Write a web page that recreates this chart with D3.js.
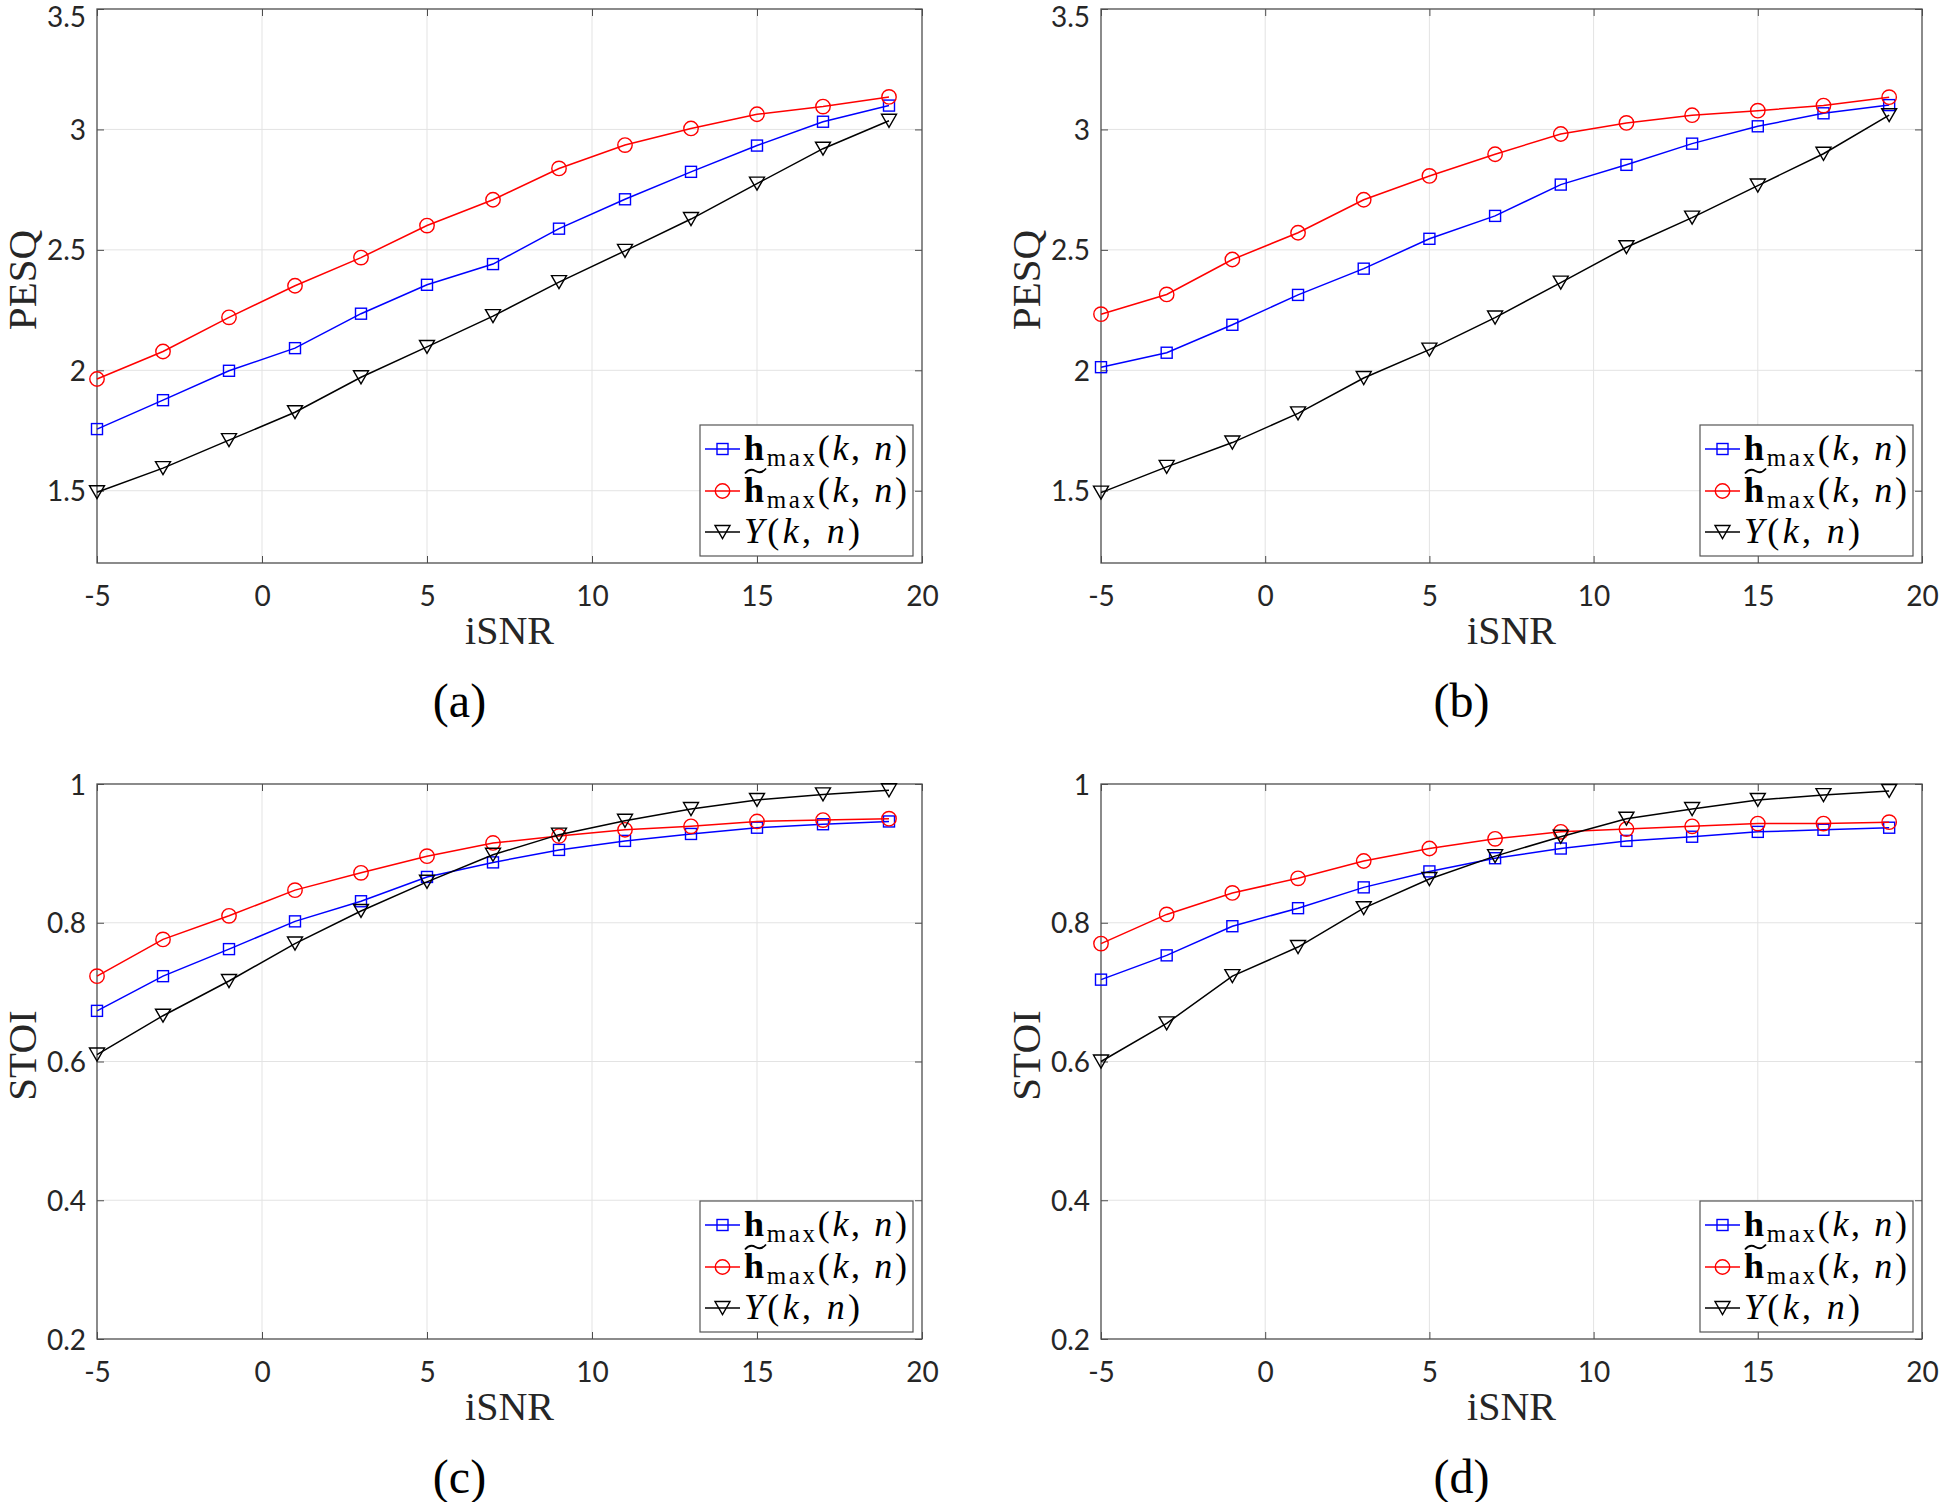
<!DOCTYPE html>
<html>
<head>
<meta charset="utf-8">
<script src="https://cdn.jsdelivr.net/npm/d3@7"></script>
<style>
  html, body { margin: 0; padding: 0; background: #fff; }
  svg { display: block; }
</style>
</head>
<body>
<svg id="chart" width="1943" height="1502"></svg>
<script>
// ---------- data ----------
const snr = [-5, -3, -1, 1, 3, 5, 7, 9, 11, 13, 15, 17, 19];
const xTicks = [-5, 0, 5, 10, 15, 20];
const pesqTicks = [1.5, 2, 2.5, 3, 3.5];
const stoiTicks = [0.2, 0.4, 0.6, 0.8, 1];
const pesqDomain = [1.2, 3.5];
const stoiDomain = [0.2, 1];
const captions = ["(a)", "(b)", "(c)", "(d)"];
const yLabels = ["PESQ", "PESQ", "STOI", "STOI"];
const xLabel = "iSNR";

const pesqA_hmax   = [1.756, 1.876, 1.998, 2.092, 2.235, 2.355, 2.441, 2.588, 2.710, 2.824, 2.933, 3.032, 3.099];
const pesqA_htilde = [1.964, 2.078, 2.220, 2.351, 2.468, 2.601, 2.708, 2.838, 2.935, 3.004, 3.063, 3.095, 3.135];
const pesqA_Y      = [1.494, 1.594, 1.710, 1.826, 1.971, 2.097, 2.225, 2.366, 2.496, 2.628, 2.775, 2.920, 3.036];

const pesqB_hmax   = [2.013, 2.073, 2.189, 2.313, 2.422, 2.546, 2.641, 2.771, 2.853, 2.941, 3.013, 3.067, 3.101];
const pesqB_htilde = [2.233, 2.315, 2.460, 2.571, 2.708, 2.807, 2.897, 2.981, 3.027, 3.059, 3.078, 3.099, 3.134];
const pesqB_Y      = [1.492, 1.599, 1.700, 1.821, 1.968, 2.086, 2.219, 2.364, 2.511, 2.634, 2.767, 2.899, 3.059];

const stoiC_hmax   = [0.673, 0.723, 0.762, 0.802, 0.831, 0.866, 0.887, 0.905, 0.918, 0.928, 0.937, 0.942, 0.946];
const stoiC_htilde = [0.723, 0.776, 0.810, 0.847, 0.872, 0.896, 0.915, 0.925, 0.934, 0.939, 0.946, 0.948, 0.950];
const stoiC_Y      = [0.610, 0.666, 0.716, 0.770, 0.817, 0.859, 0.898, 0.927, 0.947, 0.964, 0.977, 0.985, 0.991];

const stoiD_hmax   = [0.718, 0.753, 0.795, 0.821, 0.851, 0.874, 0.893, 0.907, 0.918, 0.924, 0.931, 0.934, 0.937];
const stoiD_htilde = [0.770, 0.812, 0.843, 0.864, 0.889, 0.907, 0.921, 0.931, 0.935, 0.939, 0.943, 0.943, 0.945];
const stoiD_Y      = [0.600, 0.655, 0.723, 0.765, 0.821, 0.863, 0.896, 0.924, 0.950, 0.964, 0.977, 0.984, 0.990];

const seriesColors = ["#0000ff", "#ff0000", "#000000"];
const seriesMarkers = ["square", "circle", "triangle"];

// ---------- layout ----------
const panels = [
  { x0: 97,   x1: 922,  y0: 9,   y1: 563,  dom: pesqDomain, ticks: pesqTicks, series: [pesqA_hmax, pesqA_htilde, pesqA_Y] },
  { x0: 1101, x1: 1922, y0: 9,   y1: 563,  dom: pesqDomain, ticks: pesqTicks, series: [pesqB_hmax, pesqB_htilde, pesqB_Y] },
  { x0: 97,   x1: 922,  y0: 784, y1: 1339, dom: stoiDomain, ticks: stoiTicks, series: [stoiC_hmax, stoiC_htilde, stoiC_Y] },
  { x0: 1101, x1: 1922, y0: 784, y1: 1339, dom: stoiDomain, ticks: stoiTicks, series: [stoiD_hmax, stoiD_htilde, stoiD_Y] }
];

const svg = d3.select("#chart");
const tickFont = "Lato, 'Open Sans', sans-serif";
const serif = "'Liberation Serif', 'DejaVu Serif', serif";
const axisColor = "#4d4d4d";

function drawMarker(g, type, x, y, color) {
  if (type === "square") {
    g.append("rect").attr("x", x - 5.5).attr("y", y - 5.5).attr("width", 11).attr("height", 11)
      .attr("fill", "none").attr("stroke", color).attr("stroke-width", 1.4);
  } else if (type === "circle") {
    g.append("circle").attr("cx", x).attr("cy", y).attr("r", 7.2)
      .attr("fill", "none").attr("stroke", color).attr("stroke-width", 1.4);
  } else {
    const w = 7.5, h = 6.5;
    g.append("path").attr("d", `M${x - w},${y - h}L${x + w},${y - h}L${x},${y + h}Z`)
      .attr("fill", "none").attr("stroke", color).attr("stroke-width", 1.4);
  }
}

panels.forEach((p, i) => {
  const x = d3.scaleLinear().domain([xTicks[0], xTicks[xTicks.length - 1]]).range([p.x0, p.x1]);
  const y = d3.scaleLinear().domain(p.dom).range([p.y1, p.y0]);
  const g = svg.append("g");

  // grid
  g.append("g").selectAll("line").data(xTicks.slice(1, -1)).join("line")
    .attr("x1", d => x(d)).attr("x2", d => x(d)).attr("y1", p.y0).attr("y2", p.y1)
    .attr("stroke", "#e3e3e3").attr("stroke-width", 1);
  g.append("g").selectAll("line").data(p.ticks.filter(t => t > p.dom[0] && t < p.dom[1])).join("line")
    .attr("x1", p.x0).attr("x2", p.x1).attr("y1", d => y(d)).attr("y2", d => y(d))
    .attr("stroke", "#e3e3e3").attr("stroke-width", 1);

  // axes via d3 axis (ticks inside)
  const xAxis = d3.axisBottom(x).tickValues(xTicks).tickSizeInner(-7).tickSizeOuter(0).tickPadding(23)
    .tickFormat(d => String(d));
  const gx = g.append("g").attr("transform", `translate(0,${p.y1})`).call(xAxis);
  gx.select(".domain").remove();
  gx.selectAll("line").attr("stroke", axisColor);
  gx.selectAll("text").attr("font-family", tickFont).attr("font-size", 28).attr("fill", "#262626");

  const gxt = g.append("g").attr("transform", `translate(0,${p.y0})`)
    .call(d3.axisTop(x).tickValues(xTicks).tickSizeInner(-7).tickSizeOuter(0).tickFormat(""));
  gxt.select(".domain").remove();
  gxt.selectAll("line").attr("stroke", axisColor);

  const yAxis = d3.axisLeft(y).tickValues(p.ticks).tickSizeInner(-7).tickSizeOuter(0).tickPadding(11)
    .tickFormat(d => String(d));
  const gy = g.append("g").attr("transform", `translate(${p.x0},0)`).call(yAxis);
  gy.select(".domain").remove();
  gy.selectAll("line").attr("stroke", axisColor);
  gy.selectAll("text").attr("font-family", tickFont).attr("font-size", 28).attr("fill", "#262626")
    .attr("dy", d => (y(d) < 14 ? "0.62em" : "0.36em"));

  const gyr = g.append("g").attr("transform", `translate(${p.x1},0)`)
    .call(d3.axisRight(y).tickValues(p.ticks).tickSizeInner(-7).tickSizeOuter(0).tickFormat(""));
  gyr.select(".domain").remove();
  gyr.selectAll("line").attr("stroke", axisColor);

  // box
  g.append("rect").attr("x", p.x0).attr("y", p.y0).attr("width", p.x1 - p.x0).attr("height", p.y1 - p.y0)
    .attr("fill", "none").attr("stroke", axisColor).attr("stroke-width", 1.3);

  // series
  const line = d3.line().x((d, k) => x(snr[k])).y(d => y(d));
  p.series.forEach((vals, s) => {
    g.append("path").datum(vals).attr("d", line).attr("fill", "none")
      .attr("stroke", seriesColors[s]).attr("stroke-width", 1.5);
    vals.forEach((v, k) => drawMarker(g, seriesMarkers[s], x(snr[k]), y(v), seriesColors[s]));
  });

  // axis labels
  g.append("text").attr("x", (p.x0 + p.x1) / 2).attr("y", p.y1 + 81).attr("text-anchor", "middle")
    .attr("font-family", serif).attr("font-size", 40).attr("fill", "#262626").text(xLabel);
  g.append("text").attr("transform", `translate(${p.x0 - 61},${(p.y0 + p.y1) / 2 - 6}) rotate(-90)`)
    .attr("text-anchor", "middle").attr("font-family", serif).attr("font-size", 41).attr("fill", "#262626")
    .text(yLabels[i]);

  // caption
  g.append("text").attr("x", (p.x0 + p.x1) / 2 - 50).attr("y", p.y1 + 154).attr("text-anchor", "middle")
    .attr("font-family", serif).attr("font-size", 48).attr("fill", "#000").text(captions[i]);

  // legend
  const lw = 213, lh = 131;
  const lx = p.x1 - 9 - lw, ly = p.y1 - 7 - lh;
  const lg = g.append("g").attr("transform", `translate(${lx},${ly})`);
  lg.append("rect").attr("width", lw).attr("height", lh).attr("fill", "#fff")
    .attr("stroke", "#555").attr("stroke-width", 1.2);
  const rowY = [24, 66, 107];
  rowY.forEach((ry, s) => {
    lg.append("line").attr("x1", 5).attr("x2", 40).attr("y1", ry).attr("y2", ry)
      .attr("stroke", seriesColors[s]).attr("stroke-width", 1.5);
    drawMarker(lg, seriesMarkers[s], 22.5, ry, seriesColors[s]);
    const t = lg.append("text").attr("x", 44).attr("y", ry + 11)
      .attr("font-family", serif).attr("font-size", 36).attr("fill", "#000");
    if (s < 2) {
      t.append("tspan").attr("font-weight", "bold").text("h");
      t.append("tspan").attr("font-size", 25).attr("dy", 6).text("max");
      t.append("tspan").attr("dy", -6).text("(");
      t.append("tspan").attr("font-style", "italic").text("k");
      t.append("tspan").text(", ");
      t.append("tspan").attr("font-style", "italic").text("n");
      t.append("tspan").text(")");
      t.attr("textLength", 163).attr("lengthAdjust", "spacing");
      if (s === 1) {
        // wide tilde accent over the bold h
        const c = ry - 20;
        lg.append("path")
          .attr("d", `M45,${c + 2.5} Q50,${c - 3.5} 55.5,${c} T66,${c - 2.5}`)
          .attr("fill", "none").attr("stroke", "#000").attr("stroke-width", 1.8);
      }
    } else {
      t.append("tspan").attr("font-style", "italic").text("Y");
      t.append("tspan").text("(");
      t.append("tspan").attr("font-style", "italic").text("k");
      t.append("tspan").text(", ");
      t.append("tspan").attr("font-style", "italic").text("n");
      t.append("tspan").text(")");
      t.attr("textLength", 116).attr("lengthAdjust", "spacing");
    }
  });
});
</script>
</body>
</html>
